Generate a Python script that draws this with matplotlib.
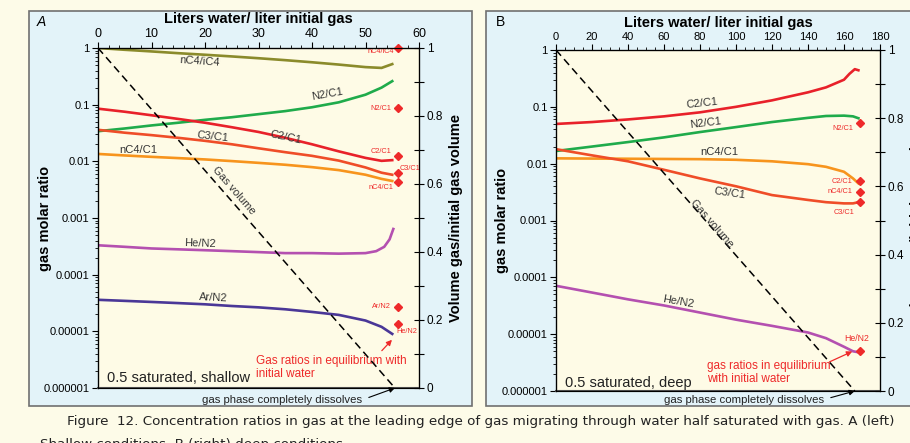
import numpy as np
import matplotlib.pyplot as plt
from matplotlib.patches import Rectangle
from matplotlib.ticker import FixedLocator, MultipleLocator, NullFormatter

plt.rcParams['font.family'] = ['Liberation Sans', 'DejaVu Sans']

# ---- panel A data (shallow) ----
xa = [0, 5, 10, 15, 20, 25, 30, 35, 40, 45, 50, 53, 55]
a_nc4ic4 = [1.0, 0.93, 0.87, 0.81, 0.76, 0.71, 0.66, 0.61, 0.56, 0.51, 0.46, 0.445, 0.52]
a_n2c1 = [0.034, 0.038, 0.043, 0.048, 0.054, 0.060, 0.068, 0.077, 0.090, 0.11, 0.15, 0.20, 0.26]
a_c2c1 = [0.085, 0.075, 0.065, 0.056, 0.048, 0.040, 0.033, 0.026, 0.020, 0.015, 0.0115, 0.0102, 0.0105]
a_c3c1 = [0.036, 0.032, 0.029, 0.026, 0.023, 0.020, 0.017, 0.0145, 0.0125, 0.0103, 0.0078, 0.0063, 0.0058]
a_nc4c1 = [0.0135, 0.0127, 0.012, 0.0114, 0.0108, 0.0101, 0.0094, 0.0087, 0.0079, 0.007, 0.0058, 0.0049, 0.0045]
a_arn2 = [3.6e-5, 3.45e-5, 3.3e-5, 3.15e-5, 3.0e-5, 2.8e-5, 2.65e-5, 2.45e-5, 2.2e-5, 1.95e-5, 1.55e-5, 1.2e-5, 9e-6]
xa_he = [0, 5, 10, 15, 20, 25, 30, 35, 40, 45, 50, 52, 53.5, 54.5, 55.2]
a_hen2 = [3.3e-4, 3.1e-4, 2.9e-4, 2.8e-4, 2.7e-4, 2.6e-4, 2.5e-4, 2.4e-4, 2.4e-4, 2.35e-4, 2.4e-4,
          2.6e-4, 3.1e-4, 4.2e-4, 6.4e-4]
a_gas_x = [0, 55.5]
a_gas_v = [1, 0]
# equilibrium with initial water
a_eq_x = 56
a_eq_names = ['nC4/iC4', 'N2/C1', 'C2/C1', 'C3/C1', 'nC4/C1', 'Ar/N2', 'He/N2']
a_eq_vals = [1.0, 0.087, 0.0126, 0.0062, 0.0043, 2.7e-5, 1.35e-5]

# ---- panel B data (deep) ----
xb = [0, 20, 40, 60, 80, 100, 120, 140, 150, 160, 165, 168]
b_n2c1 = [0.0167, 0.020, 0.024, 0.029, 0.036, 0.044, 0.054, 0.064, 0.069, 0.070, 0.068, 0.063]
b_nc4c1 = [0.0124, 0.0123, 0.0122, 0.0121, 0.012, 0.0117, 0.011, 0.0098, 0.0088, 0.0072, 0.0055, 0.0045]
b_c3c1 = [0.018, 0.014, 0.011, 0.0078, 0.0055, 0.004, 0.0028, 0.0023, 0.0021, 0.002, 0.002, 0.0021]
b_hen2 = [7.1e-5, 5.4e-5, 4.1e-5, 3.2e-5, 2.4e-5, 1.8e-5, 1.4e-5, 1.07e-5, 8.5e-6, 6e-6, 5e-6, 4.8e-6]
xb_c2 = [0, 20, 40, 60, 80, 100, 120, 140, 150, 160, 163, 166, 168]
b_c2c1 = [0.05, 0.054, 0.06, 0.068, 0.08, 0.10, 0.13, 0.18, 0.22, 0.30, 0.38, 0.46, 0.44]
b_gas_x = [0, 166]
b_gas_v = [1, 0]
b_eq_x = 169
b_eq_names = ['N2/C1', 'C2/C1', 'nC4/C1', 'C3/C1', 'He/N2']
b_eq_vals = [0.052, 0.0049, 0.0032, 0.0021, 5e-6]

ytick_vals = [1, 0.1, 0.01, 0.001, 0.0001, 0.00001, 0.000001]
ytick_labels = ['1', '0.1', '0.01', '0.001', '0.0001', '0.00001', '0.000001']

# colours
c_olive = '#8b8b2b'
c_green = '#1fab4b'
c_red = '#e8212a'
c_orred = '#ef4d28'
c_orange = '#f7941d'
c_mag = '#b450b0'
c_ind = '#4a3797'
c_mark = '#ee2a2a'
bg = '#fdfbe8'
panel_bg = '#e3f3f9'
plot_bg = '#fefbe6'

W, H = 910, 443
fig = plt.figure(figsize=(W / 100, H / 100), dpi=100, facecolor=bg)


def px(l, t, r, b):
    return [l / W, 1 - b / H, (r - l) / W, (b - t) / H]


# panel boxes (behind the axes)
for (l, t, r, b) in [(29, 11, 472, 406), (486, 11, 930, 406)]:
    fig.patches.append(Rectangle((l / W, 1 - b / H), (r - l) / W, (b - t) / H,
                                 transform=fig.transFigure, facecolor=panel_bg,
                                 edgecolor='#707070', lw=1.2, zorder=-5))


def setup(ax, xmax, xmajor, xminor, xtick_size):
    ax.set_facecolor(plot_bg)
    ax.set_yscale('log')
    ax.set_ylim(1e-6, 1)
    ax.set_xlim(0, xmax)
    ax.xaxis.tick_top()
    ax.xaxis.set_label_position('top')
    ax.xaxis.set_major_locator(MultipleLocator(xmajor))
    ax.xaxis.set_minor_locator(MultipleLocator(xminor))
    ax.set_yticks(ytick_vals)
    ax.set_yticklabels(ytick_labels)
    ax.yaxis.set_minor_formatter(NullFormatter())
    ax.tick_params(axis='both', which='major', labelsize=8, length=4, width=0.8, pad=2)
    ax.tick_params(axis='x', labelsize=xtick_size)
    ax.tick_params(axis='both', which='minor', length=2, width=0.6)
    ax.set_xlabel('Liters water/ liter initial gas', fontsize=10.5, fontweight='bold', labelpad=3)
    ax.set_ylabel('gas molar ratio', fontsize=10.5, fontweight='bold')
    ax.yaxis.set_label_coords(-0.144, 0.5)
    for s in ax.spines.values():
        s.set_linewidth(0.9)
    ax.spines['bottom'].set_color('#505050')
    ax.spines['bottom'].set_linewidth(1.5)
    ax2 = ax.twinx()
    ax2.set_ylim(0, 1)
    ax2.yaxis.set_major_locator(FixedLocator(np.arange(0, 1.01, 0.1)))
    ax2.set_yticklabels(['0', '', '0.2', '', '0.4', '', '0.6', '', '0.8', '', '1'])
    ax2.tick_params(axis='y', direction='inout', length=7, width=0.8, labelsize=8.5, pad=2)
    ax2.set_ylabel('Volume gas/initial gas volume', fontsize=10.5, fontweight='bold')
    ax2.yaxis.set_label_coords(1.093, 0.5)
    return ax2


lw = 1.9
lab = dict(fontsize=8, color='#333333', ha='center', va='center')
mlab = dict(fontsize=5.3, color=c_mark, va='center')
red_txt = dict(fontsize=8.5, color=c_mark, ha='left', va='center', linespacing=1.1)
msize = 4.3

# ---------------- panel A ----------------
axA = fig.add_axes(px(98, 48, 419, 388))
axA2 = setup(axA, 60, 10, 2, 9)
axA.plot(xa, a_nc4ic4, color=c_olive, lw=lw)
axA.plot(xa, a_n2c1, color=c_green, lw=lw)
axA.plot(xa, a_c2c1, color=c_red, lw=lw)
axA.plot(xa, a_c3c1, color=c_orred, lw=lw)
axA.plot(xa, a_nc4c1, color=c_orange, lw=lw)
axA.plot(xa_he, a_hen2, color=c_mag, lw=lw)
axA.plot(xa, a_arn2, color=c_ind, lw=lw)
axA.plot([a_eq_x] * len(a_eq_vals), a_eq_vals, 'D', color=c_mark, ms=msize, clip_on=False, zorder=5)
axA2.plot(a_gas_x, a_gas_v, '--', color='black', lw=1.1, dashes=(5, 3))

axA.text(19, 0.57, 'nC4/iC4', rotation=-4, **lab)
axA.text(42.8, 0.15, 'N2/C1', rotation=10, **lab)
axA.text(35, 0.027, 'C2/C1', rotation=-12, **lab)
axA.text(21.5, 0.027, 'C3/C1', rotation=-6, **lab)
axA.text(7.5, 0.016, 'nC4/C1', **lab)
axA.text(19, 0.00036, 'He/N2', rotation=-2, **lab)
axA.text(21.5, 3.9e-5, 'Ar/N2', rotation=-3, **lab)
axA2.text(25.3, 0.58, 'Gas volume', rotation=-49, **lab)

axA.text(55.3, 0.85, 'nC4/iC4', ha='right', **mlab)
axA.text(54.8, 0.087, 'N2/C1', ha='right', **mlab)
axA.text(54.8, 0.0147, 'C2/C1', ha='right', **mlab)
axA.text(56.3, 0.0074, 'C3/C1', ha='left', **mlab)
axA.text(55.3, 0.0035, 'nC4/C1', ha='right', **mlab)
axA.text(54.8, 2.7e-5, 'Ar/N2', ha='right', **mlab)
axA.text(55.7, 9.8e-6, 'He/N2', ha='left', **mlab)

axA.text(1.7, 1.5e-6, '0.5 saturated, shallow', fontsize=10.5, color='#222222', va='center')
axA.text(29.5, 2.3e-6, 'Gas ratios in equilibrium with\ninitial water', **red_txt)
axA.annotate('', xy=(55.3, 7.7e-6), xytext=(52.7, 4.2e-6),
             arrowprops=dict(arrowstyle='-|>', color=c_mark, lw=0.9, mutation_scale=8))
axA2.annotate('gas phase completely dissolves', xy=(55.5, 0), xytext=(34.4, -0.035),
              fontsize=8.2, color='#222222', ha='center', va='center', annotation_clip=False,
              arrowprops=dict(arrowstyle='-|>', color='black', lw=0.8, mutation_scale=8,
                              relpos=(1, 0.5), shrinkA=3, shrinkB=0))

# ---------------- panel B ----------------
axB = fig.add_axes(px(556, 50, 880, 391))
axB2 = setup(axB, 180, 20, 5, 8)
axB.plot(xb_c2, b_c2c1, color=c_red, lw=lw)
axB.plot(xb, b_n2c1, color=c_green, lw=lw)
axB.plot(xb, b_nc4c1, color=c_orange, lw=lw)
axB.plot(xb, b_c3c1, color=c_orred, lw=lw)
axB.plot(xb, b_hen2, color=c_mag, lw=lw)
axB.plot([b_eq_x] * len(b_eq_vals), b_eq_vals, 'D', color=c_mark, ms=msize, clip_on=False, zorder=5)
axB2.plot(b_gas_x, b_gas_v, '--', color='black', lw=1.1, dashes=(5, 3))

axB.text(81, 0.117, 'C2/C1', rotation=6, **lab)
axB.text(83, 0.052, 'N2/C1', rotation=7, **lab)
axB.text(90.5, 0.016, 'nC4/C1', **lab)
axB.text(96.7, 0.003, 'C3/C1', rotation=-8, **lab)
axB.text(68, 3.7e-5, 'He/N2', rotation=-10, **lab)
axB2.text(86.5, 0.49, 'Gas volume', rotation=-49, **lab)

axB.text(165, 0.042, 'N2/C1', ha='right', **mlab)
axB.text(164.5, 0.0049, 'C2/C1', ha='right', **mlab)
axB.text(164.5, 0.0032, 'nC4/C1', ha='right', **mlab)
axB.text(166, 0.0014, 'C3/C1', ha='right', **mlab)
axB.text(167, 8.5e-6, 'He/N2', ha='center', fontsize=6.3, color=c_mark, va='center')

axB.text(5, 1.4e-6, '0.5 saturated, deep', fontsize=10.5, color='#222222', va='center')
axB.text(83.9, 2.1e-6, 'gas ratios in equilibrium\nwith initial water', **red_txt)
axB.annotate('', xy=(166, 5.2e-6), xytext=(150.5, 3.1e-6),
             arrowprops=dict(arrowstyle='-|>', color=c_mark, lw=0.9, mutation_scale=8))
axB2.annotate('gas phase completely dissolves', xy=(166, 0), xytext=(104.4, -0.025),
              fontsize=8.2, color='#222222', ha='center', va='center', annotation_clip=False,
              arrowprops=dict(arrowstyle='-|>', color='black', lw=0.8, mutation_scale=8,
                              relpos=(1, 0.5), shrinkA=3, shrinkB=0))

# panel letters
fig.text(37 / W, 1 - 22 / H, 'A', fontsize=10, fontstyle='italic', va='center')
fig.text(496 / W, 1 - 22 / H, 'B', fontsize=10, va='center')

# caption
cap = dict(fontsize=9.7, color='#222222', va='center', family='DejaVu Sans')
fig.text(67 / W, 1 - 422 / H,
         'Figure  12. Concentration ratios in gas at the leading edge of gas migrating '
         'through water half saturated with gas. A (left)', **cap)
fig.text(40 / W, 1 - 445 / H, 'Shallow conditions, B (right) deep conditions.', **cap)

fig.savefig('out.png', dpi=100, facecolor=bg)
